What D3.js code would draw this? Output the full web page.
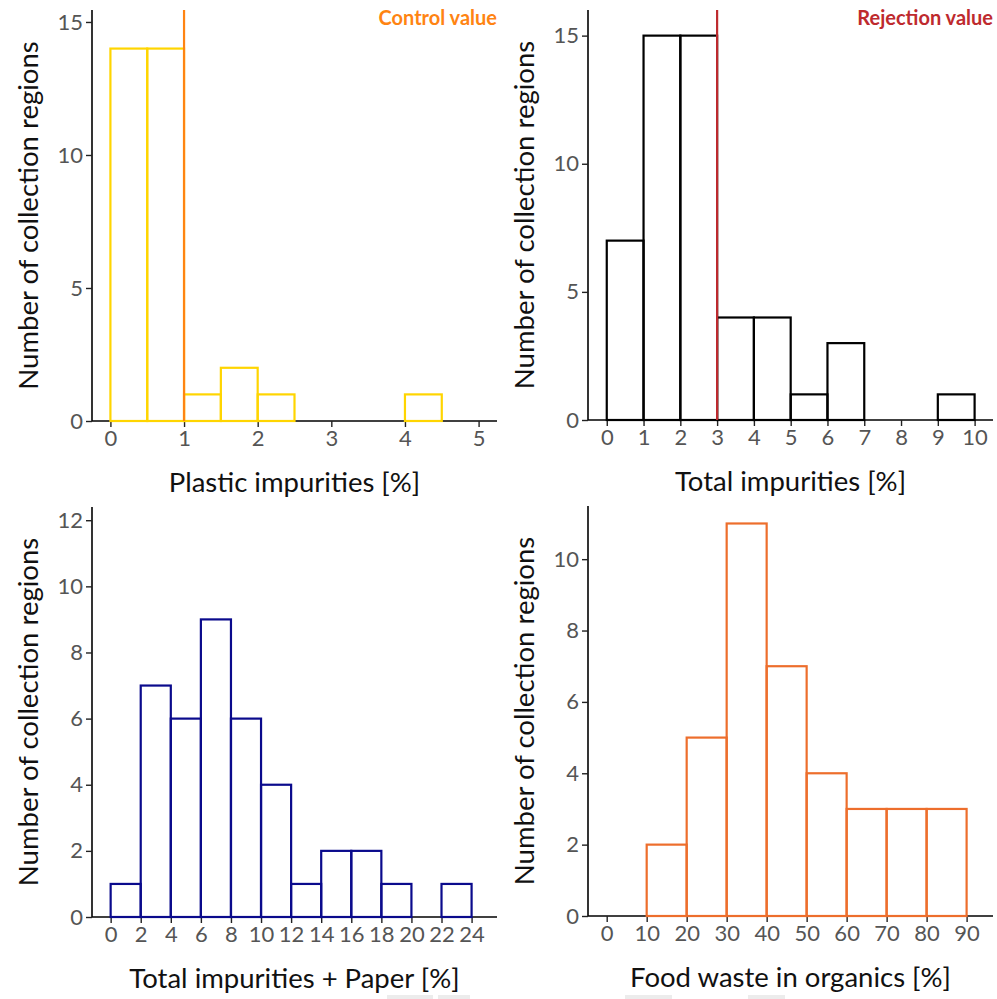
<!DOCTYPE html>
<html>
<head>
<meta charset="utf-8">
<script src="https://cdn.jsdelivr.net/npm/d3@7"></script>
<style>
  body { margin: 0; background: #fff; }
  svg text { font-family: Lato, "Open Sans", sans-serif; }
</style>
</head>
<body>
<div id="chart"></div>
<script>
"use strict";
(function() {

const WIDTH = 997
const HEIGHT = 999

const Y_TITLE = "Number of collection regions"

// bin starts and counts for each histogram
const plasticStarts = [0, 0.5, 1, 1.5, 2, 2.5, 3, 3.5, 4, 4.5]
const plasticCounts = [14, 14, 1, 2, 1, 0, 0, 0, 1, 0]
const plasticXTicks = [0, 1, 2, 3, 4, 5]
const plasticYTicks = [0, 5, 10, 15]

const totalStarts = [0, 1, 2, 3, 4, 5, 6, 7, 8, 9]
const totalCounts = [7, 15, 15, 4, 4, 1, 3, 0, 0, 1]
const totalXTicks = [0, 1, 2, 3, 4, 5, 6, 7, 8, 9, 10]
const totalYTicks = [0, 5, 10, 15]

const paperStarts = [0, 2, 4, 6, 8, 10, 12, 14, 16, 18, 20, 22]
const paperCounts = [1, 7, 6, 9, 6, 4, 1, 2, 2, 1, 0, 1]
const paperXTicks = [0, 2, 4, 6, 8, 10, 12, 14, 16, 18, 20, 22, 24]
const paperYTicks = [0, 2, 4, 6, 8, 10, 12]

const foodStarts = [0, 10, 20, 30, 40, 50, 60, 70, 80]
const foodCounts = [0, 2, 5, 11, 7, 4, 3, 3, 3]
const foodXTicks = [0, 10, 20, 30, 40, 50, 60, 70, 80, 90]
const foodYTicks = [0, 2, 4, 6, 8, 10]

const panels = [
    { starts: plasticStarts, counts: plasticCounts, width: 0.5,
      xTicks: plasticXTicks, yTicks: plasticYTicks,
      xDomain: [-0.25, 5.25], yDomain: [0, 15.45],
      x0: 92, x1: 497, y0: 421, y1: 10,
      color: "#ffd500", title: "Plastic impurities [%]",
      ref: { value: 1, label: "Control value", color: "#ff8412" } },
    { starts: totalStarts, counts: totalCounts, width: 1,
      xTicks: totalXTicks, yTicks: totalYTicks,
      xDomain: [-0.51, 10.5], yDomain: [0, 16],
      x0: 588, x1: 993, y0: 420, y1: 10,
      color: "#000000", title: "Total impurities [%]",
      ref: { value: 3, label: "Rejection value", color: "#be2a2e" } },
    { starts: paperStarts, counts: paperCounts, width: 2,
      xTicks: paperXTicks, yTicks: paperYTicks,
      xDomain: [-1.24, 25.69], yDomain: [0, 12.4],
      x0: 92, x1: 497, y0: 917, y1: 507,
      color: "#0a0a8c", title: "Total impurities + Paper [%]" },
    { starts: foodStarts, counts: foodCounts, width: 10,
      xTicks: foodXTicks, yTicks: foodYTicks,
      xDomain: [-4.675, 96.6], yDomain: [0, 11.49],
      x0: 588, x1: 993, y0: 916, y1: 506,
      color: "#ed6e2c", title: "Food waste in organics [%]" }
]

const svg = d3.select("#chart").append("svg")
    .attr("width", WIDTH)
    .attr("height", HEIGHT)

function drawPanel(p) {
    let x = d3.scaleLinear().domain(p.xDomain).range([p.x0, p.x1])
    let y = d3.scaleLinear().domain(p.yDomain).range([p.y0, p.y1])
    let g = svg.append("g")

    let xAxis = g.append("g")
        .attr("transform", `translate(0, ${p.y0})`)
        .call(d3.axisBottom(x).tickValues(p.xTicks).tickFormat(d3.format("d"))
            .tickSize(6).tickPadding(3))
    let yAxis = g.append("g")
        .attr("transform", `translate(${p.x0}, 0)`)
        .call(d3.axisLeft(y).tickValues(p.yTicks).tickFormat(d3.format("d"))
            .tickSize(6).tickPadding(3))

    ;[xAxis, yAxis].forEach(a => {
        a.select(".domain").attr("stroke", "#000").attr("stroke-width", 1.6)
        a.selectAll(".tick line").attr("stroke", "#222").attr("stroke-width", 1.4)
        a.selectAll(".tick text")
            .attr("fill", "#555")
            .style("font-size", "22px")
    })
    // axis lines without the outer ticks
    yAxis.select(".domain").attr("d", `M0,${p.y0}V${p.y1}`)
    xAxis.select(".domain").attr("d", `M${p.x0},0H${p.x1}`)

    // histogram bars as outlines
    g.selectAll("rect.bar")
        .data(p.starts.map((s, i) => ({ s: s, c: p.counts[i] })))
        .join("rect")
        .attr("class", "bar")
        .attr("x", d => x(d.s))
        .attr("width", d => x(d.s + p.width) - x(d.s))
        .attr("y", d => y(d.c))
        .attr("height", d => y(0) - y(d.c))
        .attr("fill", "none")
        .attr("stroke", p.color)
        .attr("stroke-width", 2.2)

    if (p.ref) {
        g.append("line")
            .attr("x1", x(p.ref.value)).attr("x2", x(p.ref.value))
            .attr("y1", p.y0).attr("y2", p.y1)
            .attr("stroke", p.ref.color)
            .attr("stroke-width", 2.2)
        g.append("text")
            .attr("x", p.x1)
            .attr("y", p.y1 + 15)
            .attr("text-anchor", "end")
            .attr("fill", p.ref.color)
            .style("font-size", "20px")
            .style("font-weight", "bold")
            .text(p.ref.label)
    }

    g.append("text")
        .attr("x", (p.x0 + p.x1) / 2)
        .attr("y", p.y0 + 71)
        .attr("text-anchor", "middle")
        .attr("fill", "#111")
        .style("font-size", "27.5px")
        .text(p.title)

    g.append("text")
        .attr("transform", `translate(${p.x0 - 54}, ${(p.y0 + p.y1) / 2}) rotate(-90)`)
        .attr("text-anchor", "middle")
        .attr("fill", "#111")
        .style("font-size", "27.5px")
        .text(Y_TITLE)
}

panels.forEach(drawPanel)

// faint grey boxes at the bottom edge
const greyBoxes = [[387, 433], [438, 470], [625, 672], [748, 785]]
svg.selectAll("rect.grey")
    .data(greyBoxes)
    .join("rect")
    .attr("class", "grey")
    .attr("x", d => d[0])
    .attr("width", d => d[1] - d[0])
    .attr("y", 995)
    .attr("height", 4)
    .attr("fill", "#ececec")

})();
</script>
</body>
</html>
